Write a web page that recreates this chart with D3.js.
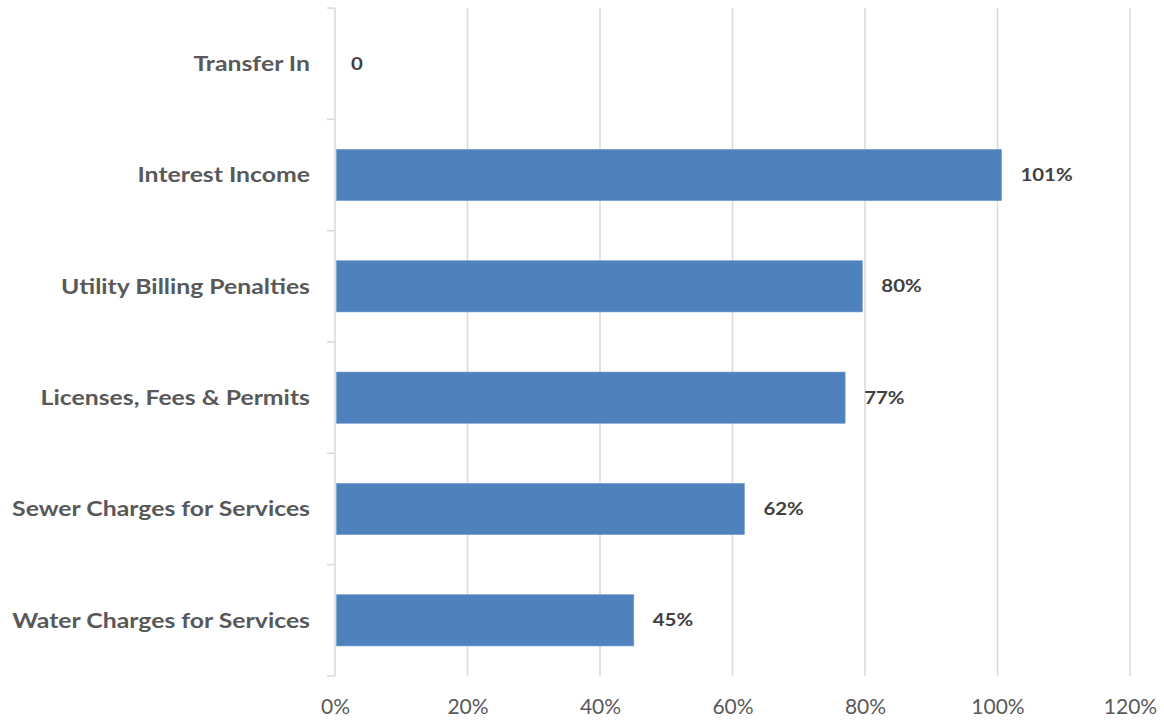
<!DOCTYPE html>
<html>
<head>
<meta charset="utf-8">
<script src="https://cdn.jsdelivr.net/npm/d3@7"></script>
<style>
  html, body { margin: 0; padding: 0; background: #ffffff; }
  svg { display: block; }
</style>
</head>
<body>
<svg id="chart" width="1164" height="721"></svg>
<script>
// Revenue categories, top to bottom, and share of budget received
const categories = [
  "Transfer In",
  "Interest Income",
  "Utility Billing Penalties",
  "Licenses, Fees & Permits",
  "Sewer Charges for Services",
  "Water Charges for Services"
];
const values = [0, 1.006, 0.796, 0.77, 0.618, 0.451];
const xTicks = [0, 0.2, 0.4, 0.6, 0.8, 1.0, 1.2];

const svg = d3.select("#chart");
const font = "Lato, 'Open Sans', sans-serif";
const gridColor = "#d9d9d9";

const plotLeft = 335, plotRight = 1130, plotTop = 8, plotBottom = 676;

const x = d3.scaleLinear().domain([0, 1.2]).range([plotLeft, plotRight]);
const pad = 0.54;
const y = d3.scaleBand().domain(categories).range([plotTop, plotBottom])
  .paddingInner(pad).paddingOuter(pad / 2);

// vertical gridlines
svg.append("g").selectAll("line")
  .data(xTicks.filter(d => d > 0))
  .join("line")
  .attr("x1", d => x(d)).attr("x2", d => x(d))
  .attr("y1", plotTop).attr("y2", plotBottom)
  .attr("stroke", gridColor).attr("stroke-width", 1.5);

// x axis labels
const xAxis = d3.axisBottom(x).tickValues(xTicks).tickFormat(d3.format(".0%")).tickSize(0).tickPadding(0);
const gx = svg.append("g").attr("transform", `translate(0,${plotBottom})`).call(xAxis);
gx.select(".domain").remove();
gx.selectAll("text")
  .attr("dy", 0).attr("y", 38)
  .attr("fill", "#595959")
  .style("font-family", font).style("font-size", "21px");

// category axis: line at zero plus ticks at band boundaries
const step = y.step();
const bounds = categories.map(c => y(c) + y.bandwidth() / 2 - step / 2);
bounds.push(bounds[bounds.length - 1] + step);
const gy = svg.append("g");
gy.append("line")
  .attr("x1", x(0)).attr("x2", x(0))
  .attr("y1", plotTop).attr("y2", plotBottom)
  .attr("stroke", gridColor).attr("stroke-width", 1.5);
gy.selectAll("line.tick")
  .data(bounds)
  .join("line").attr("class", "tick")
  .attr("x1", x(0) - 8).attr("x2", x(0))
  .attr("y1", d => d).attr("y2", d => d)
  .attr("stroke", gridColor).attr("stroke-width", 1.5);

// category names, set slightly wide
gy.selectAll("text")
  .data(categories)
  .join("text")
  .attr("transform", d => `translate(310,${y(d) + y.bandwidth() / 2}) scale(1.18,1)`)
  .attr("dy", "0.35em")
  .attr("text-anchor", "end")
  .attr("fill", "#595959")
  .style("font-family", font).style("font-weight", "bold").style("font-size", "21px")
  .text(d => d);

// bars
const rows = categories.map((c, i) => ({ c, v: values[i] }));
svg.append("g").selectAll("rect")
  .data(rows.filter(d => d.v > 0))
  .join("rect")
  .attr("x", x(0) + 1.5)
  .attr("y", d => y(d.c))
  .attr("width", d => x(d.v) - x(0) - 1.5)
  .attr("height", y.bandwidth())
  .attr("fill", "#4f81bd")
  .attr("stroke", "#6f9bd0").attr("stroke-width", 0.6);

// value labels
const pct = d3.format(".0%");
svg.append("g").selectAll("text")
  .data(rows)
  .join("text")
  .attr("transform", d => `translate(${x(d.v) + (d.v > 0 ? 19 : 16)},${y(d.c) + y.bandwidth() / 2}) scale(1.2,1)`)
  .attr("dy", "0.35em")
  .attr("fill", "#404040")
  .style("font-family", font).style("font-weight", "bold").style("font-size", "17px")
  .text(d => d.v === 0 ? "0" : pct(d.v));
</script>
</body>
</html>
